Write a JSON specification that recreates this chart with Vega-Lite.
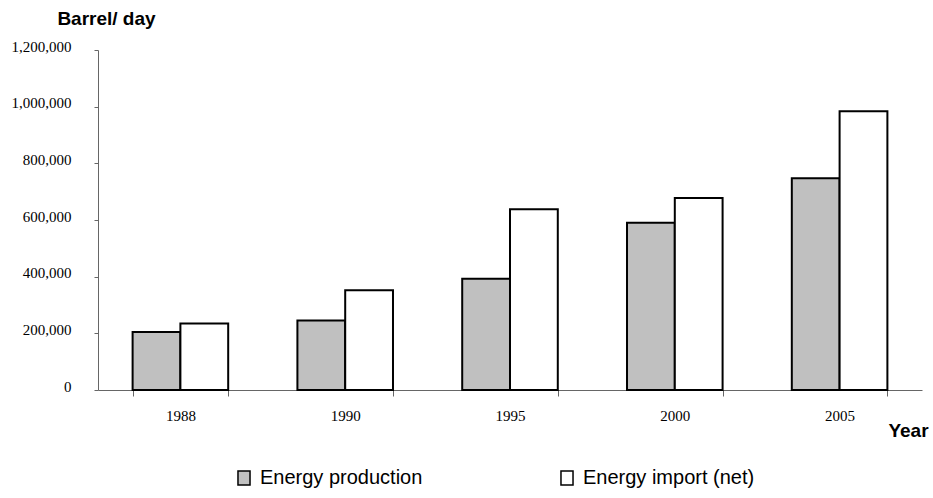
{
  "$schema": "https://vega.github.io/schema/vega-lite/v6.json",
  "width": 824,
  "height": 340,
  "autosize": "none",
  "padding": {"left": 98, "top": 50, "right": 11, "bottom": 108},
  "background": "white",
  "data": {
    "values": [
      {"year": "1988", "series": "Energy production", "value": 205000},
      {"year": "1988", "series": "Energy import (net)", "value": 235000},
      {"year": "1990", "series": "Energy production", "value": 245000},
      {"year": "1990", "series": "Energy import (net)", "value": 352000},
      {"year": "1995", "series": "Energy production", "value": 393000},
      {"year": "1995", "series": "Energy import (net)", "value": 638000},
      {"year": "2000", "series": "Energy production", "value": 590000},
      {"year": "2000", "series": "Energy import (net)", "value": 678000},
      {"year": "2005", "series": "Energy production", "value": 747000},
      {"year": "2005", "series": "Energy import (net)", "value": 984000}
    ]
  },
  "config": {
    "view": {"stroke": null},
    "axis": {"grid": false, "domainColor": "#666666", "tickColor": "#666666", "labelColor": "black", "titleColor": "black"}
  },
  "mark": {"type": "bar", "stroke": "black", "strokeWidth": 2, "strokeJoin": "miter"},
  "encoding": {
    "x": {
      "field": "year",
      "type": "nominal",
      "scale": {"paddingInner": 0.42, "paddingOuter": 0.21},
      "axis": {
        "title": "Year",
        "titleFont": "Liberation Sans",
        "titleFontSize": 19,
        "titleFontWeight": "bold",
        "titleAlign": "center",
        "titleBaseline": "middle",
        "titleX": 810,
        "titleY": 40,
        "labelAngle": 0,
        "labelFont": "Liberation Serif",
        "labelFontSize": 15,
        "tickSize": 6,
        "tickBand": "extent",
        "labelPadding": 12
      }
    },
    "xOffset": {
      "field": "series",
      "type": "nominal",
      "sort": ["Energy production", "Energy import (net)"],
      "scale": {"paddingInner": 0, "paddingOuter": 0}
    },
    "y": {
      "field": "value",
      "type": "quantitative",
      "scale": {"domain": [0, 1200000], "nice": false},
      "axis": {
        "title": "Barrel/ day",
        "titleFont": "Liberation Sans",
        "titleFontSize": 19,
        "titleFontWeight": "bold",
        "titleAngle": 0,
        "titleAlign": "center",
        "titleBaseline": "middle",
        "titleX": 8,
        "titleY": -32,
        "values": [0, 200000, 400000, 600000, 800000, 1000000, 1200000],
        "format": ",d",
        "labelFont": "Liberation Serif",
        "labelFontSize": 15,
        "tickSize": 4,
        "labelPadding": 23,
        "labelOffset": -4
      }
    },
    "fill": {
      "field": "series",
      "type": "nominal",
      "sort": ["Energy production", "Energy import (net)"],
      "scale": {"domain": ["Energy production", "Energy import (net)"], "range": ["#c0c0c0", "#ffffff"]},
      "legend": {
        "title": null,
        "orient": "none",
        "direction": "horizontal",
        "legendX": 136,
        "legendY": 418,
        "symbolType": "M-0.86,-1h1.72v2h-1.72z",
        "symbolSize": 196,
        "symbolStrokeColor": "black",
        "symbolStrokeWidth": 1.5,
        "labelFont": "Liberation Sans",
        "labelFontSize": 20,
        "labelColor": "black",
        "labelOffset": 6,
        "labelLimit": 400,
        "columnPadding": 134
      }
    }
  }
}
